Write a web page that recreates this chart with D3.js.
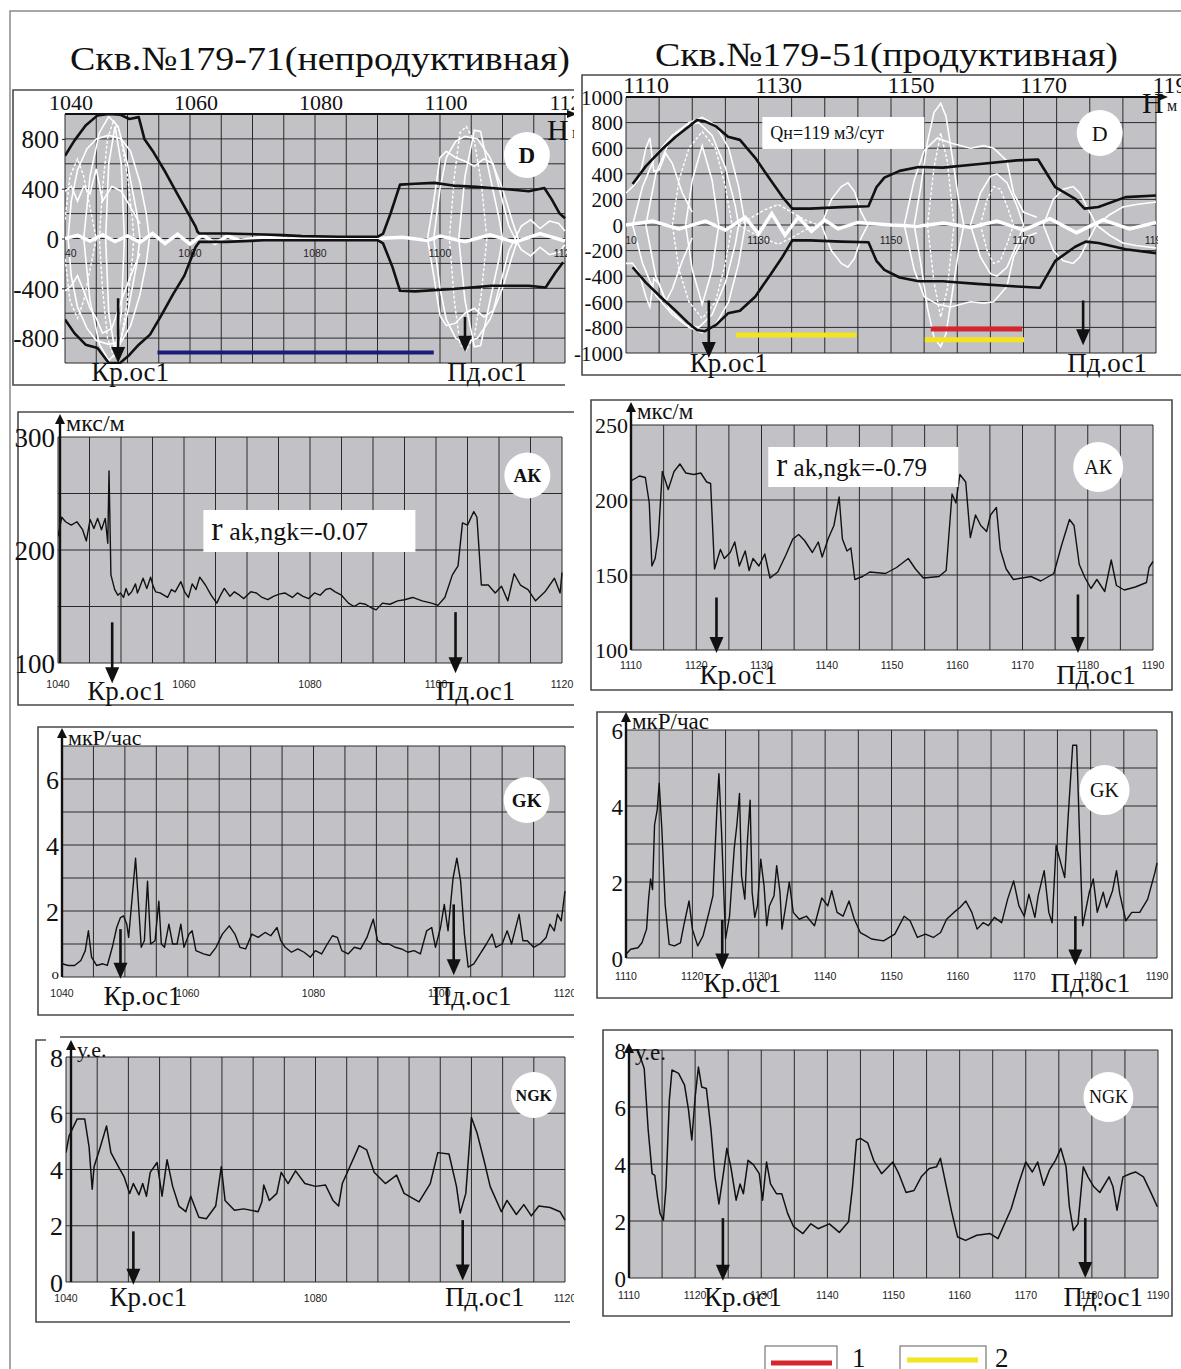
<!DOCTYPE html>
<html>
<head>
<meta charset="utf-8">
<script src="https://cdn.jsdelivr.net/npm/d3@7"></script>
<style>
  body { margin: 0; background: #fff; }
  svg { display: block; }
  text { font-family: 'Liberation Serif', 'Times New Roman', serif; fill: #111; }
  .small { font-family: 'Liberation Sans', Arial, sans-serif; font-size: 10.5px; fill: #222; }
</style>
</head>
<body>
<svg id="chart" width="1181" height="1369"></svg>
<script>
'use strict';

// ---- titles / labels
var titles = ['Скв.№179-71(непродуктивная)', 'Скв.№179-51(продуктивная)'];
var markerNames = ['Кр.ос1', 'Пд.ос1'];
var legendLabels = ['1', '2'];

// ---- tick values
var leftDepthTop = [1040, 1060, 1080, 1100, 1120];
var rightDepthTop = [1110, 1130, 1150, 1170, 1190];
var leftDepthBottom = [1040, 1060, 1080, 1100, 1120];
var leftNgkDepthBottom = [1040, 1080, 1120];
var rightDepthBottom = [1110, 1120, 1130, 1140, 1150, 1160, 1170, 1180, 1190];
var dTicksLeft = [800, 400, 0, -400, -800];
var dTicksRight = [1000, 800, 600, 400, 200, 0, -200, -400, -600, -800, -1000];
var akTicksLeft = [300, 200, 100];
var akTicksRight = [250, 200, 150, 100];
var gkTicks = [6, 4, 2, 0];
var ngkTicks = [8, 6, 4, 2, 0];

// ---- D (wave envelope), left well
var dLeftUpper = [[1040,664],[1041.5,786],[1043.3,908],[1045.2,989],[1047,1000],[1048.8,995],[1050.3,960],[1051.8,975],[1052.7,800],[1054.2,690],[1056.1,530],[1057.9,365],[1059.7,203],[1060.9,95],[1061.2,54],[1061.5,40],[1065.8,40],[1071.8,32],[1074.8,27],[1077.9,19],[1083.9,14],[1090,14],[1090.9,40],[1092.1,203],[1093.6,433],[1096,440],[1099.1,447],[1102.1,425],[1105.8,415],[1108.2,406],[1111.2,393],[1114.2,380],[1116.7,406],[1117.9,312],[1119.1,203],[1120,163]];
var dLeftLower = [[1040,-650],[1041.5,-760],[1043.3,-853],[1045.2,-880],[1047,-1000],[1048.8,-1000],[1050.3,-935],[1051.8,-853],[1053.6,-772],[1055.5,-610],[1057.3,-447],[1059.1,-298],[1060.9,-68],[1061.5,-27],[1065.8,-27],[1071.8,-14],[1090,-14],[1090.9,-40],[1092.4,-230],[1093.6,-420],[1096,-425],[1102.1,-406],[1108.2,-380],[1114.2,-380],[1116.9,-393],[1118.5,-271],[1119.7,-190]];
var wL0 = [[1040,0],[1042,25],[1044,-20],[1046,30],[1048,-25],[1050,20],[1052,-30],[1054,40],[1056,-40],[1058,35],[1060,-45],[1062,30],[1064,-40],[1066,20],[1068,-15],[1072,10],[1076,-5],[1080,5],[1090,0],[1094,10],[1098,-15],[1100,20],[1104,-25],[1108,30],[1112,-30],[1116,40],[1120,-20]];
var wL1 = [[1040.5,0],[1041,300],[1042,550],[1043.5,720],[1045,800],[1047,830],[1049,800],[1050.5,700],[1052,450],[1053,200],[1053.5,0],[1053,-200],[1052,-450],[1050.5,-700],[1049,-830],[1047,-850],[1045,-820],[1043.5,-720],[1042,-550],[1041,-300],[1040.5,0]];
var wL2 = [[1045.5,0],[1046,400],[1046.8,800],[1047.8,950],[1048.8,850],[1050,500],[1050.8,150],[1051,0],[1050.8,-150],[1050,-500],[1048.8,-850],[1047.8,-950],[1046.8,-800],[1046,-400],[1045.5,0]];
var wL3 = [[1046.5,0],[1047,600],[1048,900],[1049,600],[1049.5,0],[1049,-600],[1048,-900],[1047,-600],[1046.5,0]];
var wL4 = [[1040,150],[1040.8,500],[1042,640],[1043,500],[1044,250],[1045,0],[1044,-250],[1043,-500],[1042,-640],[1040.8,-500],[1040,-150]];
var wL5 = [[1043,0],[1044,500],[1045.5,850],[1047,980],[1048.5,900],[1050,600],[1051.5,200],[1052,0],[1051.5,-200],[1050,-600],[1048.5,-900],[1047,-980],[1045.5,-850],[1044,-500],[1043,0]];
var wL5a = [[1040,380],[1041,420],[1042,300],[1043,420],[1044,360],[1045,560],[1046,300],[1047.5,420],[1049,380],[1050.5,250],[1052,120]];
var wL5b = [[1040,-420],[1041,-380],[1042,-300],[1043,-420],[1044,-560],[1045,-640],[1046,-760],[1047.5,-720],[1049,-500],[1050.5,-300],[1052,-120]];
var wL6 = [[1099,0],[1100,400],[1101,650],[1102.5,780],[1104,820],[1106,800],[1108,650],[1110,400],[1111.5,150],[1112.5,0],[1111.5,-150],[1110,-400],[1108,-650],[1106,-800],[1104,-840],[1102.5,-800],[1101,-650],[1100,-400],[1099,0]];
var wL7 = [[1101.5,0],[1102.3,500],[1103.2,850],[1104.2,900],[1105.5,780],[1106.6,450],[1107.5,0],[1106.6,-450],[1105.5,-780],[1104.2,-900],[1103.2,-850],[1102.3,-500],[1101.5,0]];
var wL8 = [[1103,0],[1104,500],[1105.5,870],[1106.5,860],[1108,500],[1109.5,150],[1110,0],[1109.5,-150],[1108,-500],[1106.5,-860],[1105.5,-870],[1104,-500],[1103,0]];
var wL9a = [[1098,0],[1099,300],[1100,650],[1101,700],[1102.5,650],[1104,620],[1105.5,580],[1107,640],[1108.5,600],[1110,300],[1111,100],[1112,0]];
var wL9b = [[1098,0],[1099,-300],[1100,-620],[1101,-700],[1102.5,-680],[1104,-600],[1105.5,-560],[1107,-630],[1108.5,-580],[1110,-300],[1111,-100],[1112,0]];
var wL10a = [[1112,0],[1113,100],[1114.5,150],[1116,80],[1117.5,140],[1119,120],[1120,60]];
var wL10b = [[1112,0],[1113,-90],[1114.5,-140],[1116,-70],[1117.5,-130],[1119,-110],[1120,-50]];

// ---- D, right well
var dRightUpper = [[1111,320],[1113,460],[1115.4,590],[1117.5,690],[1119.5,770],[1120.7,820],[1121.9,810],[1123.6,770],[1125.4,690],[1127.2,665],[1129.5,525],[1131.9,345],[1133.6,220],[1135.1,128],[1137.8,128],[1142.5,140],[1146.6,146],[1147.8,295],[1149,370],[1151.3,423],[1154.2,453],[1157.8,448],[1163,475],[1169,505],[1172.2,512],[1174.8,295],[1177.8,205],[1179.2,128],[1181.3,140],[1185.4,218],[1190,230]];
var dRightLower = [[1111,-330],[1113,-450],[1115.4,-570],[1117.5,-670],[1119.5,-770],[1120.7,-820],[1121.9,-830],[1123.6,-780],[1125.4,-690],[1127.2,-670],[1129.5,-560],[1131.9,-380],[1133.6,-250],[1135.1,-120],[1137.8,-120],[1142.5,-130],[1146.6,-135],[1147.8,-280],[1149,-350],[1151.3,-410],[1154.2,-440],[1157.8,-440],[1163,-460],[1169,-480],[1172.5,-490],[1174.8,-280],[1177.8,-170],[1179.4,-130],[1181.3,-140],[1185.4,-190],[1190,-220]];
var wR0 = [[1110,0],[1114,30],[1118,-30],[1122,30],[1125,-40],[1128,60],[1130,-70],[1132,90],[1134,-80],[1136,60],[1138,-50],[1140,40],[1142,-30],[1145,20],[1150,0],[1154,-10],[1158,15],[1162,-20],[1166,30],[1170,-40],[1174,50],[1178,-60],[1182,40],[1186,-30],[1190,20]];
var wR1 = [[1111,0],[1112.5,300],[1114.5,550],[1117,700],[1119.5,800],[1121.5,840],[1123.5,780],[1125.5,600],[1127,300],[1128,0],[1127,-300],[1125.5,-600],[1123.5,-780],[1121.5,-840],[1119.5,-800],[1117,-700],[1114.5,-550],[1112.5,-300],[1111,0]];
var wR2 = [[1117,0],[1118,350],[1119.5,600],[1121.5,730],[1123.5,600],[1125,300],[1126,0],[1125,-300],[1123.5,-600],[1121.5,-730],[1119.5,-600],[1118,-350],[1117,0]];
var wR3 = [[1119,0],[1120,350],[1121.5,620],[1123,350],[1124,0],[1123,-350],[1121.5,-620],[1120,-350],[1119,0]];
var wR4a = [[1110,250],[1111,300],[1112,360],[1113,600],[1113.6,680],[1114.2,420],[1115,430],[1116,560],[1117,480],[1118.5,250],[1120,100]];
var wR4b = [[1110,-300],[1111,-300],[1112,-380],[1113,-560],[1113.6,-640],[1114.2,-420],[1115,-460],[1116,-600],[1117,-500],[1118.5,-280],[1120,-100]];
var wR5 = [[1139.5,0],[1141,200],[1142.5,300],[1143.5,330],[1144.5,260],[1145.5,100],[1146.5,0],[1145.5,-100],[1144.5,-260],[1143.5,-330],[1142.5,-300],[1141,-200],[1139.5,0]];
var wR5a = [[1127,0],[1129,60],[1131,120],[1133,160],[1135,100],[1137,40],[1139,0]];
var wR5b = [[1127,0],[1129,-60],[1131,-110],[1133,-150],[1135,-100],[1137,-40],[1139,0]];
var wR6 = [[1153.5,0],[1154.5,300],[1155.5,650],[1156.5,880],[1157.5,950],[1158.3,850],[1159.2,550],[1160.2,200],[1161,0],[1160.2,-200],[1159.2,-550],[1158.3,-850],[1157.5,-950],[1156.5,-880],[1155.5,-650],[1154.5,-300],[1153.5,0]];
var wR7 = [[1155.5,0],[1156.5,450],[1157.5,720],[1158.5,500],[1159.5,0],[1158.5,-500],[1157.5,-720],[1156.5,-450],[1155.5,0]];
var wR8a = [[1152,0],[1153.5,350],[1155,580],[1157,680],[1159,640],[1162,600],[1164,620],[1165.5,600],[1167.5,500],[1168.5,250],[1170,100],[1172,60]];
var wR8b = [[1152,0],[1153.5,-350],[1155,-560],[1157,-620],[1159,-640],[1162,-600],[1164,-610],[1165.5,-600],[1167.5,-480],[1168.5,-250],[1170,-100],[1172,-60]];
var wR9 = [[1162,0],[1163.5,250],[1165,380],[1166,400],[1167.5,330],[1169,150],[1170,0],[1169,-150],[1167.5,-330],[1166,-400],[1165,-380],[1163.5,-250],[1162,0]];
var wR10 = [[1173,0],[1174.5,200],[1176,280],[1177.5,300],[1178.5,250],[1180,100],[1181,0],[1180,-100],[1178.5,-250],[1177.5,-300],[1176,-280],[1174.5,-200],[1173,0]];
var wR11a = [[1181,0],[1183,80],[1185,140],[1187,160],[1190,180]];
var wR11b = [[1181,0],[1183,-80],[1185,-140],[1187,-160],[1190,-180]];
var wR12 = [[1113,0],[1114.5,400],[1116.5,650],[1119,780],[1121,800],[1123,700],[1125,450],[1126.5,150],[1127,0],[1126.5,-150],[1125,-450],[1123,-700],[1121,-800],[1119,-780],[1116.5,-650],[1114.5,-400],[1113,0]];
var wR13 = [[1163.5,0],[1164.5,200],[1165.5,300],[1166.5,280],[1167.5,150],[1168.5,0],[1167.5,-150],[1166.5,-280],[1165.5,-300],[1164.5,-200],[1163.5,0]];

// ---- AK (acoustic), мкс/м
var akLeft = [[1040,212],[1040.6,229],[1041.2,225],[1042.1,222],[1043,225],[1043.9,218],[1044.5,208],[1045.1,227],[1045.7,219],[1046.3,228],[1046.9,218],[1047.5,228],[1047.9,206],[1048.1,270],[1048.4,178],[1049,165],[1049.5,160],[1049.9,162],[1050.4,158],[1050.8,166],[1051.2,160],[1051.7,163],[1052.3,170],[1052.6,162],[1052.9,166],[1053.5,175],[1054.1,166],[1054.7,176],[1055.1,168],[1055.5,163],[1056.2,162],[1056.8,160],[1057.4,158],[1058,165],[1058.6,163],[1059.5,172],[1060.1,163],[1060.7,158],[1061.3,170],[1061.9,165],[1062.5,176],[1063.4,169],[1064.3,160],[1065.2,153],[1065.8,160],[1066.4,166],[1067.3,159],[1068,163],[1068.8,160],[1069.5,157],[1070.6,163],[1071.5,162],[1072.4,158],[1073.3,156],[1074.2,159],[1075.1,161],[1076,162],[1077.2,158],[1078,162],[1078.9,159],[1079.8,157],[1080.7,162],[1081.6,160],[1082.5,165],[1083.2,166],[1084,163],[1085,160],[1086.1,153],[1087,150],[1087.9,153],[1088.8,152],[1089.7,149],[1090.5,147],[1091.5,153],[1092.7,152],[1093.9,155],[1095,156],[1096.3,158],[1097.8,155],[1099.3,153],[1100.3,151],[1101.4,158],[1102.6,178],[1103.5,186],[1104.2,224],[1105,222],[1106,234],[1106.5,229],[1107.2,169],[1108.3,169],[1109.4,162],[1110.4,168],[1111.4,155],[1112.4,179],[1113.4,169],[1114.6,165],[1115.8,155],[1117.3,163],[1118.8,175],[1119.7,162],[1120,180]];
var akRight = [[1110.1,213],[1111.3,216],[1112.2,215],[1112.8,198],[1113.2,156],[1113.7,161],[1114.2,176],[1114.8,219],[1115.7,207],[1116.6,219],[1117.5,224],[1118.4,218],[1119.6,217],[1120.7,218],[1121.6,212],[1122.2,211],[1122.8,154],[1123.7,167],[1124.3,161],[1125.2,165],[1125.9,172],[1126.6,156],[1127.5,166],[1128.1,153],[1128.7,161],[1129.6,156],[1130.5,164],[1131.3,148],[1132.5,152],[1133.7,163],[1134.8,174],[1135.7,177],[1136.6,173],[1137.8,165],[1138.7,172],[1139.3,162],[1140.2,174],[1141.1,183],[1141.9,202],[1142.4,174],[1143.1,166],[1143.7,168],[1144.3,147],[1145.5,149],[1146.6,152],[1149,151],[1150.7,155],[1152.5,161],[1153.6,154],[1154.8,148],[1157.2,149],[1158.3,153],[1159.2,204],[1159.8,198],[1160.4,217],[1161.3,212],[1162,175],[1162.8,190],[1163.6,183],[1164.5,179],[1165.1,190],[1166,195],[1166.6,167],[1167.5,154],[1168.6,147],[1171.3,149],[1172.8,146],[1174.8,151],[1176,170],[1177.2,187],[1177.9,183],[1178.7,157],[1179.6,148],[1180.5,141],[1181.4,147],[1182.6,139],[1183.6,160],[1184.4,143],[1185.6,140],[1187.3,142],[1189,145],[1189.4,155],[1190,159]];

// ---- GK (gamma), мкР/час
var gkLeft = [[1040,0.4],[1041,0.35],[1042,0.35],[1043,0.5],[1043.7,0.8],[1044.2,1.4],[1044.7,0.6],[1045.5,0.35],[1046.5,0.4],[1047.2,0.35],[1048,0.9],[1048.7,1.5],[1049.3,1.8],[1049.8,1.85],[1050.3,1.6],[1050.6,1.2],[1051.2,2.5],[1051.7,3.6],[1052.1,2.4],[1052.6,0.9],[1053.1,1.1],[1053.6,2.9],[1054.1,1.0],[1054.8,1.1],[1055.4,2.3],[1055.8,1.0],[1056.3,0.9],[1057,1.6],[1057.6,1.0],[1058.3,1.0],[1058.9,1.6],[1059.4,0.9],[1060.2,1.3],[1060.7,1.4],[1061.3,0.8],[1062.5,0.7],[1063.5,0.65],[1064.5,0.9],[1065.5,1.3],[1066.6,1.55],[1067.5,1.3],[1068.3,0.9],[1069.2,0.85],[1070.2,1.3],[1071.2,1.2],[1072.3,1.35],[1073.2,1.25],[1074.2,1.5],[1074.8,1.1],[1075.5,0.9],[1076.5,0.75],[1077.5,0.85],[1078.5,0.75],[1079.5,0.6],[1080.3,0.8],[1081.3,0.7],[1082.2,1.0],[1083,1.25],[1083.8,1.2],[1084.5,0.8],[1085.5,0.7],[1086.5,0.9],[1087.5,0.85],[1088.5,1.2],[1089.5,1.75],[1090.2,1.1],[1091,1.0],[1092,1.0],[1093,0.9],[1094,0.85],[1095,0.75],[1096,0.8],[1097,0.7],[1098,1.4],[1098.8,1.5],[1099.4,0.9],[1100.2,1.5],[1100.8,2.2],[1101.4,1.4],[1102.2,3.0],[1102.8,3.6],[1103.4,2.9],[1104,1.3],[1104.6,0.3],[1105.5,0.4],[1106.5,0.7],[1107.5,1.0],[1108.4,1.3],[1109,0.9],[1110,1.0],[1110.8,1.4],[1111.5,1.0],[1112.3,1.6],[1112.7,1.9],[1113.3,1.1],[1114,1.1],[1115,0.9],[1116,1.0],[1117,1.2],[1117.6,1.6],[1118.3,1.4],[1118.8,1.9],[1119.4,1.7],[1120,2.6]];
var gkRight = [[1110,0.1],[1110.7,0.23],[1111.8,0.27],[1112.4,0.4],[1113.1,0.76],[1113.4,1.55],[1113.7,2.08],[1114,1.8],[1114.3,3.5],[1114.7,3.9],[1115,4.6],[1115.4,3.4],[1115.9,1.4],[1116.5,0.36],[1117.3,0.32],[1118.2,0.4],[1118.7,0.85],[1119.5,1.5],[1120,0.76],[1120.8,0.32],[1121.6,0.58],[1122.5,1.2],[1123.1,1.64],[1123.7,3.93],[1124,4.85],[1124.4,3.3],[1125,0.5],[1125.6,1.1],[1126.3,2.87],[1126.7,3.5],[1127.1,4.33],[1127.4,2.17],[1127.9,1.55],[1128.3,3.1],[1128.7,4.15],[1129,1.73],[1129.4,1.07],[1129.8,1.37],[1130.3,2.6],[1130.8,1.9],[1131.2,0.85],[1131.6,1.37],[1132.3,1.64],[1132.7,2.43],[1133.2,1.73],[1133.5,0.76],[1134,1.29],[1134.6,2.0],[1135.2,1.2],[1136.1,1.02],[1137.2,1.1],[1138.4,0.85],[1139.5,1.58],[1140.4,1.37],[1141,1.77],[1141.8,1.2],[1142.7,1.1],[1143.6,1.5],[1144.4,1.02],[1145.3,0.67],[1146.2,0.58],[1147,0.5],[1148.8,0.45],[1150.5,0.63],[1151.9,1.1],[1152.8,0.98],[1153.9,0.54],[1155.1,0.63],[1156.3,0.54],[1157.4,0.67],[1158.3,1.02],[1159.4,1.2],[1160.3,1.33],[1161.2,1.5],[1162.1,1.2],[1162.9,0.76],[1163.8,0.93],[1164.6,0.85],[1165.5,1.07],[1166.6,0.93],[1167.5,1.55],[1168.4,2.03],[1169.2,1.37],[1170,1.1],[1170.7,1.68],[1171.6,1.07],[1172.1,1.64],[1173,2.3],[1173.7,1.2],[1174.2,0.93],[1174.8,2.96],[1175.6,2.43],[1176.1,2.12],[1176.6,3.67],[1177.3,5.6],[1177.9,5.6],[1178.4,2.87],[1178.8,0.85],[1179.3,1.29],[1179.8,1.73],[1180.4,2.08],[1181,1.2],[1181.9,1.73],[1182.4,1.33],[1183.3,1.77],[1183.9,2.3],[1184.4,1.68],[1185.3,0.98],[1186.2,1.2],[1187.4,1.2],[1188.6,1.55],[1189.7,2.26],[1190,2.5]];

// ---- NGK (neutron gamma), у.е.
var ngkLeft = [[1040,4.6],[1040.5,5.2],[1041.8,5.8],[1043,5.8],[1043.7,4.8],[1044.2,3.3],[1044.5,4.1],[1045.5,4.8],[1046.5,5.55],[1047.2,4.6],[1048.4,4.1],[1049.3,3.75],[1050.2,3.15],[1050.8,3.5],[1051.7,3.1],[1052.3,3.5],[1052.9,3.05],[1053.5,3.9],[1054.6,4.25],[1055.4,3.05],[1056.2,4.35],[1057.1,3.4],[1058.1,2.7],[1059.2,2.5],[1060,3.05],[1061.3,2.3],[1062.5,2.25],[1064,2.7],[1064.9,4.1],[1065.5,2.9],[1067,2.55],[1068.5,2.6],[1070.8,2.5],[1071.4,2.85],[1071.7,3.45],[1072.6,2.9],[1073.8,3.15],[1074.5,3.9],[1075.6,3.5],[1076.8,3.95],[1078.3,3.5],[1080,3.4],[1081.6,3.45],[1082.8,2.9],[1083.7,2.7],[1084.3,3.5],[1085.5,4.1],[1087,4.85],[1088.2,4.7],[1089.4,3.9],[1091.2,3.5],[1093,3.8],[1094.2,3.15],[1096.6,2.85],[1098.4,3.5],[1099.6,4.6],[1101.4,4.55],[1102.6,3.4],[1103.2,2.45],[1104.1,3.15],[1105,5.85],[1105.9,5.3],[1107.1,4.25],[1108,3.4],[1109.8,2.5],[1110.7,2.9],[1112.2,2.4],[1113.4,2.75],[1114.6,2.35],[1115.8,2.7],[1117.6,2.65],[1119.2,2.5],[1120,2.2]];
var ngkRight = [[1110,8.0],[1111.2,8.0],[1111.7,7.76],[1112.3,7.35],[1112.9,5.2],[1113.5,3.66],[1113.9,3.6],[1114.3,2.85],[1114.7,2.26],[1115.2,2.03],[1115.6,3.2],[1116.1,6.24],[1116.5,7.3],[1117.5,7.18],[1118.4,6.77],[1119,5.9],[1119.5,4.84],[1120,6.35],[1120.5,7.4],[1121,6.7],[1121.7,6.65],[1122.4,5.2],[1123,3.55],[1123.6,2.6],[1124.2,3.55],[1124.8,4.55],[1125.4,3.9],[1126.2,2.73],[1126.8,3.3],[1127.3,2.96],[1128,4.13],[1128.8,3.98],[1129.7,3.66],[1130.2,2.73],[1130.8,4.07],[1131.4,3.3],[1132.3,2.96],[1133.1,2.96],[1134,2.26],[1134.9,1.8],[1136.3,1.56],[1137.5,1.9],[1138.6,1.73],[1140.3,1.9],[1141.8,1.6],[1143.2,1.97],[1143.8,3.2],[1144.4,4.84],[1145,4.9],[1146.1,4.74],[1147,4.13],[1148.2,3.66],[1149.9,4.07],[1150.8,3.66],[1151.9,3.0],[1153.1,3.07],[1154.2,3.55],[1155.4,3.84],[1156.5,3.9],[1157.1,4.2],[1158,3.2],[1158.8,2.32],[1159.7,1.44],[1160.9,1.32],[1162.6,1.5],[1164.6,1.56],[1165.8,1.38],[1166.6,1.8],[1167.8,2.43],[1168.9,3.3],[1170,4.07],[1171,3.72],[1171.8,4.07],[1172.7,3.25],[1173.6,3.8],[1174.5,4.13],[1175.3,4.55],[1176.1,3.9],[1176.6,2.5],[1177.2,1.67],[1177.9,1.9],[1178.7,3.9],[1179.4,3.55],[1180.3,3.2],[1181.2,3.0],[1182.6,3.55],[1183.2,3.2],[1183.8,2.38],[1184.7,3.55],[1185.8,3.66],[1186.6,3.72],[1187.8,3.55],[1189,2.96],[1189.9,2.5]];

// ---- interval bars: [from, to, level]
var blueInterval = [[1054.8, 1099, -915]];
var redInterval = [[1156, 1169.8, -813]];
var yellowIntervals = [[1126.6, 1144.8, -860], [1155.1, 1170.1, -897]];

// ---- markers: depth, arrow top value, arrow tip value
var dLeftMarks = [[1048.5, -480, -1000], [1104, -630, -910]];
var dRightMarks = [[1122.5, -590, -1040], [1179, -590, -940]];
var akLeftMarks = [[1048.6, 136, 82], [1103.1, 145, 91]];
var akRightMarks = [[1123.1, 135, 98], [1178.5, 137, 98]];
var gkLeftMarks = [[1049.3, 1.45, -0.05], [1102.3, 2.2, 0.05]];
var gkRightMarks = [[1124.5, 1.0, -0.3], [1177.7, 1.1, -0.2]];
var ngkLeftMarks = [[1050.8, 1.8, -0.1], [1103.6, 2.2, 0.05]];
var ngkRightMarks = [[1124.2, 2.1, -0.1], [1179, 2.1, 0]];

var palette = {
  plot: '#c2c2c6', grid: '#2a2a2a', frame: '#4a4a4a', curve: '#111',
  red: '#d6262d', yellow: '#f3e41f', navy: '#1b1b78'
};

var svg = d3.select('#chart');
var defs = svg.append('defs');

// page frame
svg.append('path').attr('d', 'M10,1369 V11 H1181').attr('fill', 'none')
  .attr('stroke', '#8a8a8a').attr('stroke-width', 1.5);

defs.append('clipPath').attr('id', 'leftCol').append('rect')
  .attr('x', 0).attr('y', 0).attr('width', 574).attr('height', 1369);

var leftCol = svg.append('g').attr('clip-path', 'url(#leftCol)');
var rightCol = svg.append('g');

leftCol.append('text').attr('x', 70).attr('y', 70).attr('font-size', 34)
  .attr('textLength', 500).attr('lengthAdjust', 'spacingAndGlyphs').text(titles[0]);
rightCol.append('text').attr('x', 655).attr('y', 66).attr('font-size', 34)
  .attr('textLength', 463).attr('lengthAdjust', 'spacingAndGlyphs').text(titles[1]);

var clipCount = 0;

function drawPanel(root, p) {
    var x = d3.scaleLinear().domain(p.xDomain).range([p.left, p.right]);
    var y = d3.scaleLinear().domain(p.yDomain).range([p.bottom, p.top]);
    var g = root.append('g');
    var w = p.right - p.left;
    var h = p.bottom - p.top;

    // frame around the panel
    g.append('path').attr('d', p.frame).attr('fill', 'none')
        .attr('stroke', palette.frame).attr('stroke-width', 1.6);

    g.append('rect').attr('x', p.left).attr('y', p.top).attr('width', w).attr('height', h)
        .attr('fill', palette.plot);

    // grid
    var xGrid = d3.range(p.xDomain[0], p.xDomain[1] + 0.01, 5);
    g.append('g').selectAll('line').data(xGrid).enter().append('line')
        .attr('x1', function(d) { return x(d); }).attr('x2', function(d) { return x(d); })
        .attr('y1', p.top).attr('y2', p.bottom)
        .attr('stroke', palette.grid).attr('stroke-width', 1);
    var yGrid = d3.range(p.yDomain[0], p.yDomain[1] + 0.01, p.yStep);
    g.append('g').selectAll('line').data(yGrid).enter().append('line')
        .attr('x1', p.left).attr('x2', p.right)
        .attr('y1', function(d) { return y(d); }).attr('y2', function(d) { return y(d); })
        .attr('stroke', palette.grid).attr('stroke-width', 1);

    var clipId = 'plotclip' + (clipCount++);
    defs.append('clipPath').attr('id', clipId).append('rect')
        .attr('x', p.left).attr('y', p.top - 1).attr('width', w + 2).attr('height', h + 2);
    var plot = g.append('g').attr('clip-path', 'url(#' + clipId + ')');

    var line = d3.line().x(function(d) { return x(d[0]); }).y(function(d) { return y(d[1]); });

    (p.whiteSolid || []).forEach(function(s) {
        plot.append('path').datum(s).attr('d', line).attr('fill', 'none')
            .attr('stroke', '#fff').attr('stroke-width', 1.6);
    });
    (p.whiteDashed || []).forEach(function(s) {
        plot.append('path').datum(s).attr('d', line).attr('fill', 'none')
            .attr('stroke', '#fff').attr('stroke-width', 1.4).attr('stroke-dasharray', '3,2');
    });
    (p.whiteBand || []).forEach(function(s) {
        plot.append('path').datum(s).attr('d', line).attr('fill', 'none')
            .attr('stroke', '#fff').attr('stroke-width', 3.5);
    });

    // small depth labels inside / under the plot
    var labelG = p.labelsInside ? plot : g;
    labelG.selectAll('text.small-' + clipId).data(p.bottomTicks).enter().append('text')
        .attr('class', 'small')
        .attr('x', function(d) { return x(d); })
        .attr('y', p.labelsInside ? y(p.labelsInside) : p.bottom + p.labelDy)
        .attr('text-anchor', 'middle')
        .text(function(d) { return d; });

    (p.series || []).forEach(function(s) {
        plot.append('path').datum(s).attr('d', line).attr('fill', 'none')
            .attr('stroke', palette.curve).attr('stroke-width', p.seriesWidth || 1.5)
            .attr('stroke-linejoin', 'round');
    });

    (p.bars || []).forEach(function(b) {
        plot.selectAll(null).data(b.data).enter().append('line')
            .attr('x1', function(d) { return x(d[0]); }).attr('x2', function(d) { return x(d[1]); })
            .attr('y1', function(d) { return y(d[2]); }).attr('y2', function(d) { return y(d[2]); })
            .attr('stroke', b.color).attr('stroke-width', b.width);
    });

    // value axis
    var yAxis = d3.axisLeft(y).tickValues(p.yTicks).tickSize(p.tickSize || 0).tickPadding(3)
        .tickFormat(function(d, i) { return p.yTickLabels ? p.yTickLabels[i] : d; });
    var ya = g.append('g').attr('transform', 'translate(' + p.left + ',0)').call(yAxis);
    ya.select('.domain').remove();
    ya.selectAll('line').attr('stroke', '#222');
    ya.selectAll('text').attr('font-family', "'Liberation Serif', 'Times New Roman', serif")
        .attr('font-size', p.yFont).attr('fill', '#111').attr('dy', '0.35em');
    if (p.yTickLabels) {
        ya.selectAll('text').filter(function(d, i) { return p.yTickLabels[i] === 'o'; })
            .attr('font-size', 15).attr('dy', '0.1em');
    }

    // vertical axis arrow with unit label
    if (p.unit) {
        var ax = p.left + (p.axisDx || 0);
        g.append('line').attr('x1', ax).attr('x2', ax).attr('y1', p.bottom).attr('y2', p.unitArrowTop + 6)
            .attr('stroke', '#111').attr('stroke-width', 2.4);
        g.append('path').attr('d', 'M' + (ax - 5) + ',' + (p.unitArrowTop + 10) + ' L' + ax + ',' + p.unitArrowTop + ' L' + (ax + 5) + ',' + (p.unitArrowTop + 10) + ' Z')
            .attr('fill', '#111');
        g.append('text').attr('x', ax + 6).attr('y', p.unitArrowTop + 17).attr('font-size', p.unitFont || 24)
            .text(p.unit);
    }

    // top depth axis (D panels)
    if (p.topTicks) {
        g.append('line').attr('x1', p.left).attr('x2', p.right + 6).attr('y1', p.top).attr('y2', p.top)
            .attr('stroke', '#111').attr('stroke-width', 1.8);
        g.append('path').attr('d', 'M' + (p.right + 2) + ',' + (p.top - 4) + ' L' + (p.right + 12) + ',' + p.top + ' L' + (p.right + 2) + ',' + (p.top + 4) + ' Z')
            .attr('fill', '#111');
        g.selectAll(null).data(p.topTicks).enter().append('text')
            .attr('x', function(d) { return x(d) + p.topDx; })
            .attr('y', p.top - 4).attr('text-anchor', 'middle').attr('font-size', p.topFont)
            .text(function(d) { return d; });
        g.append('text').attr('x', p.hLabel[0]).attr('y', p.hLabel[1]).attr('font-size', 30).text('Н');
        g.append('text').attr('x', p.hLabel[0] + 25).attr('y', p.hLabel[1] - 2).attr('font-size', 16).text('м');
    }

    // method badge
    g.append('circle').attr('cx', x(p.badge[0])).attr('cy', y(p.badge[1])).attr('r', p.badgeR || 23)
        .attr('fill', '#fff');
    g.append('text').attr('x', x(p.badge[0])).attr('y', y(p.badge[1])).attr('dy', '0.35em')
        .attr('text-anchor', 'middle').attr('font-size', p.badgeFont || 20)
        .attr('font-weight', p.badgeBold ? 'bold' : 'normal').text(p.badgeText);

    // annotation box
    if (p.note) {
        var nx = x(p.note.at[0]), ny = y(p.note.at[1]);
        g.append('rect').attr('x', nx - p.note.w / 2).attr('y', ny - p.note.h / 2)
            .attr('width', p.note.w).attr('height', p.note.h).attr('fill', '#fff');
        var t = g.append('text').attr('x', nx - p.note.w / 2 + 8).attr('y', ny).attr('dy', '0.35em')
            .attr('font-size', p.note.font);
        p.note.parts.forEach(function(part) {
            t.append('tspan').attr('font-size', part[1]).text(part[0]);
        });
    }

    // marker arrows
    p.marks.forEach(function(m, i) {
        var mx = x(m[0]), y0 = y(m[1]), y1 = y(m[2]);
        g.append('line').attr('x1', mx).attr('x2', mx).attr('y1', y0).attr('y2', y1 - 12)
            .attr('stroke', '#111').attr('stroke-width', 2.6);
        g.append('path').attr('d', 'M' + (mx - 7) + ',' + (y1 - 16) + ' L' + mx + ',' + y1 + ' L' + (mx + 7) + ',' + (y1 - 16) + ' Z')
            .attr('fill', '#111');
        g.append('text').attr('x', mx + p.markLabelDx[i]).attr('y', p.markLabelY)
            .attr('text-anchor', 'middle').attr('font-size', 27).text(markerNames[i]);
    });

    return {x: x, y: y};
}

// ---------- left column (Скв.№179-71)
drawPanel(leftCol, {
    frame: 'M577,90 H13 V385 H565', left: 65, right: 565, top: 114, bottom: 363,
    xDomain: [1040, 1120], yDomain: [-1000, 1000], yStep: 200, yTicks: dTicksLeft, yFont: 25, tickSize: 3,
    bottomTicks: leftDepthBottom, labelsInside: -150,
    whiteSolid: [wL1, wL3, wL5, wL5a, wL5b, wL6, wL8, wL9a, wL9b, wL10a, wL10b], whiteDashed: [wL2, wL4, wL7], whiteBand: [wL0],
    series: [dLeftUpper, dLeftLower], seriesWidth: 2.6,
    bars: [{data: blueInterval, color: palette.navy, width: 4}],
    topTicks: leftDepthTop, topDx: 6, topFont: 22, hLabel: [547, 140],
    badge: [1113.9, 670], badgeText: 'D', badgeBold: true, badgeFont: 23,
    marks: dLeftMarks, markLabelDx: [12, 22], markLabelY: 381
});

drawPanel(leftCol, {
    frame: 'M577,412 H18 V705 H577', left: 58, right: 562, top: 437, bottom: 663,
    xDomain: [1040, 1120], yDomain: [100, 300], yStep: 50, yTicks: akTicksLeft, yFont: 27,
    bottomTicks: leftDepthBottom, labelDy: 25,
    series: [akLeft], seriesWidth: 1.4,
    unit: 'мкс/м', unitArrowTop: 414, axisDx: 2, unitFont: 24,
    badge: [1114.5, 266], badgeText: 'АК', badgeBold: true, badgeFont: 19,
    note: {at: [1079.9, 216.8], w: 212, h: 42, font: 26, parts: [['r', 34], [' ak,ngk=-0.07', 26]]},
    marks: akLeftMarks, markLabelDx: [14, 20], markLabelY: 700
});

drawPanel(leftCol, {
    frame: 'M577,727 H38 V1015 H577', left: 62, right: 565, top: 746, bottom: 977,
    xDomain: [1040, 1120], yDomain: [0, 7], yStep: 1, yTicks: gkTicks, yTickLabels: ['6', '4', '2', 'o'], yFont: 26,
    bottomTicks: leftDepthBottom, labelDy: 20,
    series: [gkLeft], seriesWidth: 1.4,
    unit: 'мкР/час', unitArrowTop: 728, axisDx: 0, unitFont: 22,
    badge: [1113.9, 5.36], badgeText: 'GK', badgeBold: true, badgeFont: 19,
    marks: gkLeftMarks, markLabelDx: [22, 18], markLabelY: 1005
});

drawPanel(leftCol, {
    frame: 'M577,1037 H60 M46,1040 H36 V1322 H570', left: 66, right: 565, top: 1057, bottom: 1282,
    xDomain: [1040, 1120], yDomain: [0, 8], yStep: 2, yTicks: ngkTicks, yFont: 26,
    bottomTicks: leftNgkDepthBottom, labelDy: 20,
    series: [ngkLeft], seriesWidth: 1.5,
    unit: 'у.е.', unitArrowTop: 1040, axisDx: 5, unitFont: 22,
    badge: [1115, 6.65], badgeText: 'NGK', badgeBold: true, badgeFont: 16,
    marks: ngkLeftMarks, markLabelDx: [15, 22], markLabelY: 1306
});

// ---------- right column (Скв.№179-51)
drawPanel(rightCol, {
    frame: 'M1181,75 H582 V375 H1181', left: 626, right: 1156, top: 97, bottom: 353,
    xDomain: [1110, 1190], yDomain: [-1000, 1000], yStep: 200, yTicks: dTicksRight, yFont: 21,
    bottomTicks: rightDepthTop, labelsInside: -150,
    whiteSolid: [wR1, wR3, wR4a, wR4b, wR5, wR6, wR8a, wR8b, wR9, wR10, wR11a, wR11b, wR12], whiteDashed: [wR2, wR5a, wR5b, wR7, wR13], whiteBand: [wR0],
    series: [dRightUpper, dRightLower], seriesWidth: 2.6,
    bars: [{data: yellowIntervals, color: palette.yellow, width: 5}, {data: redInterval, color: palette.red, width: 5}],
    topTicks: rightDepthTop, topDx: 20, topFont: 24, hLabel: [1142, 113],
    badge: [1181.5, 719], badgeText: 'D', badgeFont: 22,
    note: {at: [1142.8, 719], w: 162, h: 32, font: 18, parts: [['Qн=119 м3/сут', 18]]},
    marks: dRightMarks, markLabelDx: [20, 24], markLabelY: 372
});

drawPanel(rightCol, {
    frame: 'M591,400 H1172 V690 H591 Z', left: 631, right: 1153, top: 425, bottom: 650,
    xDomain: [1110, 1190], yDomain: [100, 250], yStep: 50, yTicks: akTicksRight, yFont: 22,
    bottomTicks: rightDepthBottom, labelDy: 19,
    series: [akRight], seriesWidth: 1.4,
    unit: 'мкс/м', unitArrowTop: 402, axisDx: 0, unitFont: 23,
    badge: [1181.6, 222], badgeText: 'АК', badgeFont: 20, badgeR: 25,
    note: {at: [1145.6, 222], w: 190, h: 40, font: 25, parts: [['r', 33], [' ak,ngk=-0.79', 25]]},
    marks: akRightMarks, markLabelDx: [22, 18], markLabelY: 684
});

drawPanel(rightCol, {
    frame: 'M597,712 H1172 V998 H597 Z', left: 626, right: 1157, top: 730, bottom: 958,
    xDomain: [1110, 1190], yDomain: [0, 6], yStep: 1, yTicks: gkTicks, yFont: 23,
    bottomTicks: rightDepthBottom, labelDy: 22,
    series: [gkRight], seriesWidth: 1.4,
    unit: 'мкР/час', unitArrowTop: 712, axisDx: 0, unitFont: 23,
    badge: [1182.1, 4.42], badgeText: 'GK', badgeFont: 20, badgeR: 25,
    marks: gkRightMarks, markLabelDx: [20, 15], markLabelY: 992
});

drawPanel(rightCol, {
    frame: 'M603,1030 H1172 V1316 H603 Z', left: 629, right: 1158, top: 1050, bottom: 1278,
    xDomain: [1110, 1190], yDomain: [0, 8], yStep: 2, yTicks: ngkTicks, yFont: 23,
    bottomTicks: rightDepthBottom, labelDy: 21,
    series: [ngkRight], seriesWidth: 1.5,
    unit: 'у.е.', unitArrowTop: 1043, axisDx: 0, unitFont: 23,
    badge: [1182.5, 6.35], badgeText: 'NGK', badgeFont: 18, badgeR: 25,
    marks: ngkRightMarks, markLabelDx: [20, 18], markLabelY: 1306
});

// ---------- legend
var legendColors = [palette.red, palette.yellow];
var legendG = svg.append('g');
legendG.selectAll('rect').data(legendLabels).enter().append('rect')
    .attr('x', function(d, i) { return 765 + i * 135; }).attr('y', 1346)
    .attr('width', function(d, i) { return i ? 86 : 72; }).attr('height', 30)
    .attr('fill', '#fff').attr('stroke', '#777').attr('stroke-width', 1.2);
legendG.selectAll('line').data(legendLabels).enter().append('line')
    .attr('x1', function(d, i) { return 771 + i * 136; })
    .attr('x2', function(d, i) { return i ? 978 : 832; })
    .attr('y1', function(d, i) { return i ? 1360 : 1363; })
    .attr('y2', function(d, i) { return i ? 1360 : 1363; })
    .attr('stroke', function(d, i) { return legendColors[i]; }).attr('stroke-width', 5);
legendG.selectAll('text').data(legendLabels).enter().append('text')
    .attr('x', function(d, i) { return 852 + i * 143; }).attr('y', 1367)
    .attr('font-size', 27).text(function(d) { return d; });
</script>
</body>
</html>
